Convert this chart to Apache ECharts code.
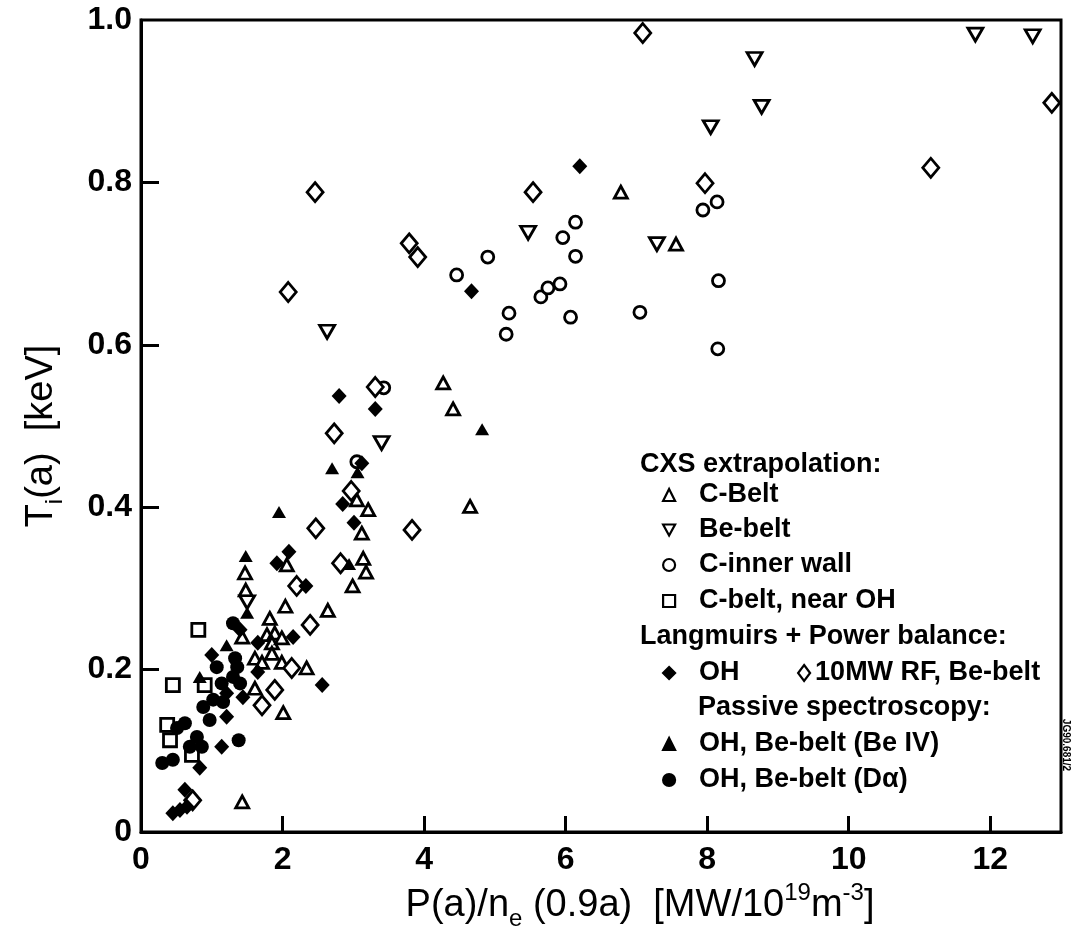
<!DOCTYPE html>
<html><head><meta charset="utf-8">
<script src="https://cdn.jsdelivr.net/npm/echarts@6/dist/echarts.min.js"></script>
<style>html,body{margin:0;padding:0;background:#fff}#c{width:1072px;height:941px}</style>
</head><body><div id="c"></div>
<script>
// ---- data (x = P(a)/ne(0.9a) [MW/1e19 m^-3], y = Ti(a) [keV]) ----
const xTickValues = [0, 2, 4, 6, 8, 10, 12];
const yTickValues = [0, 0.2, 0.4, 0.6, 0.8, 1.0];

const cBelt = [[1.47,0.319],[1.48,0.298],[2.06,0.329],[2.04,0.278],[2.64,0.273],[1.43,0.240],[1.82,0.263],[1.78,0.243],[1.89,0.245],[1.85,0.233],[1.99,0.239],[1.61,0.214],[1.71,0.209],[1.85,0.220],[1.99,0.209],[2.34,0.202],[1.61,0.177],[2.01,0.147],[1.43,0.037],[3.05,0.409],[3.21,0.397],[3.12,0.368],[3.14,0.337],[3.18,0.320],[2.99,0.303],[4.27,0.553],[4.41,0.521],[4.65,0.401],[6.78,0.788],[7.56,0.724]];
const beBelt = [[1.50,0.283],[2.63,0.616],[3.40,0.479],[5.47,0.738],[7.29,0.724],[8.05,0.868],[8.67,0.952],[8.77,0.893],[11.79,0.982],[12.60,0.980]];
const cInnerWall = [[3.05,0.456],[3.43,0.547],[4.46,0.686],[4.90,0.708],[5.20,0.639],[5.16,0.613],[5.65,0.659],[5.75,0.670],[5.92,0.675],[5.96,0.732],[6.14,0.751],[6.14,0.709],[6.07,0.634],[7.05,0.640],[7.94,0.766],[8.14,0.776],[8.16,0.679],[8.15,0.595]];
const cBeltNearOH = [[0.81,0.249],[0.45,0.181],[0.90,0.181],[0.37,0.132],[0.41,0.113],[0.72,0.095]];
const ohLangmuir = [[2.09,0.345],[1.92,0.331],[2.33,0.303],[1.40,0.249],[2.15,0.240],[1.65,0.233],[1.65,0.197],[2.56,0.181],[1.00,0.218],[1.21,0.171],[1.44,0.166],[1.21,0.142],[1.14,0.105],[0.83,0.079],[0.62,0.052],[0.45,0.023],[0.55,0.027],[0.65,0.031],[2.80,0.537],[3.31,0.521],[3.12,0.454],[2.85,0.404],[3.01,0.381],[6.20,0.820],[4.67,0.666]];
const rf10MW = [[7.09,0.984],[12.87,0.898],[11.16,0.818],[7.97,0.799],[5.54,0.788],[2.46,0.788],[2.08,0.665],[3.79,0.725],[3.91,0.708],[3.31,0.548],[2.73,0.491],[2.97,0.420],[2.47,0.374],[3.83,0.372],[2.82,0.331],[2.20,0.303],[2.39,0.255],[2.13,0.202],[1.89,0.175],[1.71,0.156],[0.73,0.039]];
const beIV = [[1.48,0.340],[1.50,0.270],[2.70,0.448],[3.06,0.443],[1.95,0.394],[2.94,0.330],[4.82,0.496],[1.21,0.230],[0.83,0.191]];
const dAlpha = [[1.30,0.257],[1.33,0.214],[1.36,0.203],[1.07,0.203],[1.30,0.191],[1.14,0.183],[1.40,0.183],[1.02,0.163],[0.88,0.154],[0.97,0.138],[0.62,0.134],[0.79,0.117],[0.86,0.105],[0.69,0.105],[0.30,0.085],[0.45,0.089],[1.38,0.113],[1.16,0.160],[0.51,0.128]];

const FONT = '"Liberation Sans", Arial, Helvetica, sans-serif';
const chart = echarts.init(document.getElementById('c'), null, {renderer: 'canvas'});

const openStyle = {color: '#fff', borderColor: '#000', borderWidth: 2.8, opacity: 1};
const fillStyle = {color: '#000', borderColor: '#000', borderWidth: 0, opacity: 1};

const legendBase = {
  orient: 'horizontal', padding: 0, itemWidth: 12, itemHeight: 12, selectedMode: false,
  textStyle: {fontFamily: FONT, fontSize: 27, fontWeight: 'bold', color: '#000', lineHeight: 30, padding: [0, 0, 0, 19]},
  itemStyle: {borderWidth: 2.2}
};
function lg(item, left, cy, extra) {
  return Object.assign({}, legendBase, {data: [item], left: left, top: cy - 15}, extra || {});
}

const nameRich = {
  n: {fontSize: 38, fontFamily: FONT, color: '#000', lineHeight: 50},
  sub: {fontSize: 24, fontFamily: FONT, color: '#000', lineHeight: 24, verticalAlign: 'bottom'},
  sup: {fontSize: 24, fontFamily: FONT, color: '#000', lineHeight: 24, verticalAlign: 'top'}
};

const option = {
  animation: false,
  backgroundColor: '#fff',
  grid: {left: 141, right: 11, top: 20, bottom: 109, show: true, borderColor: '#000', borderWidth: 3, backgroundColor: 'transparent', containLabel: false, outerBoundsMode: 'none'},
  xAxis: {
    type: 'value', min: 0, max: 13, interval: 2,
    splitLine: {show: false},
    axisLine: {show: true, onZero: false, lineStyle: {color: '#000', width: 3}},
    axisTick: {show: true, inside: true, length: 16, lineStyle: {color: '#000', width: 3}, customValues: xTickValues.filter(v => v > 0)},
    axisLabel: {show: true, margin: 12, color: '#000', fontFamily: FONT, fontSize: 32, fontWeight: 'bold', customValues: xTickValues},
    name: '{n|P(a)/n}{sub|e}{n| (0.9a)  [MW/10}{sup|19}{n|m}{sup|-3}{n|]}',
    nameLocation: 'middle', nameGap: 46,
    nameTextStyle: {rich: nameRich, padding: [0, 0, 0, 78]}
  },
  yAxis: {
    type: 'value', min: 0, max: 1, interval: 0.2,
    splitLine: {show: false},
    axisLine: {show: true, onZero: false, lineStyle: {color: '#000', width: 3}},
    axisTick: {show: true, inside: true, length: 18, lineStyle: {color: '#000', width: 3}, customValues: [0.2, 0.4, 0.6, 0.8]},
    axisLabel: {show: true, margin: 9, color: '#000', fontFamily: FONT, fontSize: 32, fontWeight: 'bold',
      customValues: yTickValues,
      formatter: v => (v === 0 ? '0' : v.toFixed(1))},
    name: '{n|T}{sub|i}{n|(a)  [keV]}',
    nameLocation: 'middle', nameRotate: 90, nameGap: 74,
    nameTextStyle: {rich: nameRich, padding: [0, 20, 0, 0]}
  },
  legend: [
    lg('C-Belt', 662, 495),
    lg({name: 'Be-belt', icon: 'path://M0,0L12,0L6,11Z'}, 662, 530),
    lg('C-inner wall', 662, 565),
    lg('C-belt, near OH', 662, 601),
    lg('OH', 662, 673),
    lg('10MW RF, Be-belt', 797, 673, {itemWidth: 12, itemHeight: 16, symbolKeepAspect: false, textStyle: Object.assign({}, legendBase.textStyle, {padding: 0})}),
    lg('OH, Be-belt (Be IV)', 662, 744),
    lg('OH, Be-belt (D\u03b1)', 662, 780)
  ],
  graphic: [
    {type: 'text', x: 640, y: 465, style: {text: 'CXS extrapolation:', fontFamily: FONT, fontSize: 27, fontWeight: 'bold', fill: '#000', verticalAlign: 'middle', align: 'left'}},
    {type: 'text', x: 640, y: 637, style: {text: 'Langmuirs + Power balance:', fontFamily: FONT, fontSize: 27, fontWeight: 'bold', fill: '#000', verticalAlign: 'middle', align: 'left'}},
    {type: 'text', x: 698, y: 708, style: {text: 'Passive spectroscopy:', fontFamily: FONT, fontSize: 27, fontWeight: 'bold', fill: '#000', verticalAlign: 'middle', align: 'left'}},
    {type: 'text', x: 1066, y: 745, rotation: -Math.PI / 2, style: {text: 'JG90.681/2', fontFamily: FONT, fontSize: 10, fontWeight: 'bold', fill: '#000', verticalAlign: 'middle', align: 'center'}}
  ],
  series: [
    {name: 'C-Belt', type: 'scatter', data: cBelt, symbol: 'triangle', symbolSize: [13, 12], itemStyle: openStyle, z: 2},
    {name: 'Be-belt', type: 'scatter', data: beBelt, symbol: 'triangle', symbolRotate: 180, symbolSize: [15, 13], itemStyle: openStyle, z: 2},
    {name: 'C-inner wall', type: 'scatter', data: cInnerWall, symbol: 'circle', symbolSize: 12, itemStyle: openStyle, z: 2},
    {name: 'C-belt, near OH', type: 'scatter', data: cBeltNearOH, symbol: 'rect', symbolSize: 13, itemStyle: openStyle, z: 2},
    {name: '10MW RF, Be-belt', type: 'scatter', data: rf10MW, symbol: 'diamond', symbolSize: [16, 19], itemStyle: openStyle, z: 2},
    {name: 'OH', type: 'scatter', data: ohLangmuir, symbol: 'diamond', symbolSize: [15, 16], itemStyle: fillStyle, z: 3},
    {name: 'OH, Be-belt (Be IV)', type: 'scatter', data: beIV, symbol: 'triangle', symbolSize: [14, 12], itemStyle: fillStyle, z: 3},
    {name: 'OH, Be-belt (D\u03b1)', type: 'scatter', data: dAlpha, symbol: 'circle', symbolSize: 14, itemStyle: fillStyle, z: 3}
  ]
};
chart.setOption(option);
</script>
</body></html>
